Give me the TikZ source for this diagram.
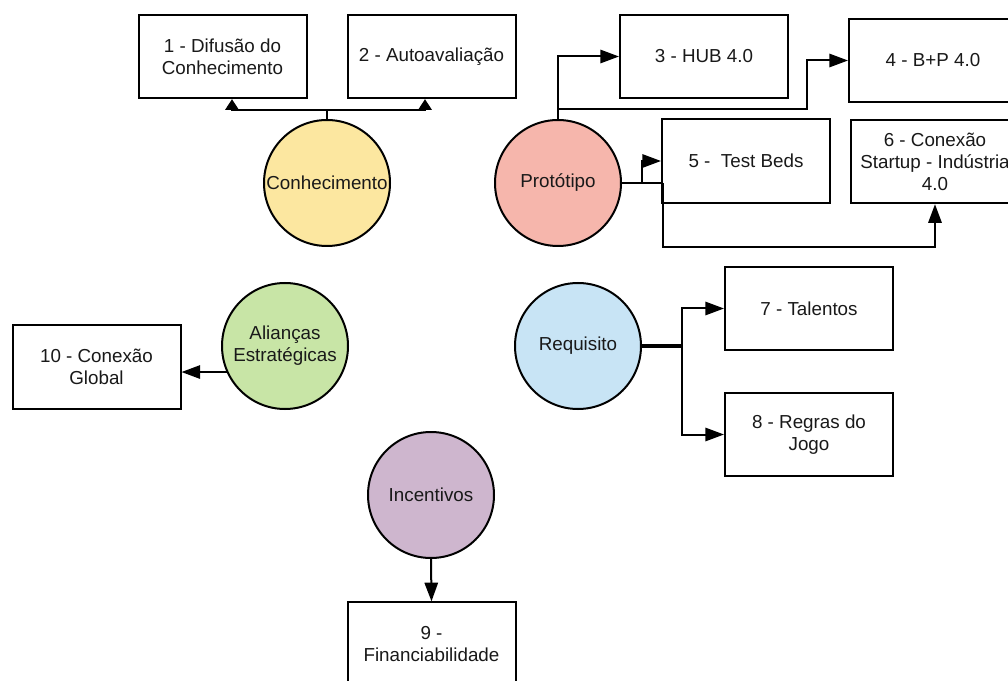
\documentclass[tikz,border=0pt]{standalone}
\usepackage{fontspec}
\setmainfont{Liberation Sans}
\usetikzlibrary{arrows.meta,calc}
\definecolor{cyel}{RGB}{252,231,160}
\definecolor{csal}{RGB}{246,182,172}
\definecolor{cblu}{RGB}{200,228,245}
\definecolor{cgrn}{RGB}{200,229,166}
\definecolor{cpur}{RGB}{206,182,206}
\definecolor{ctxt}{RGB}{25,25,25}
\tikzset{
  x=0.75pt, y=-0.75pt,
  every node/.style={font=\fontsize{14.1pt}{16.5pt}\selectfont, text=ctxt},
  box/.style={draw=black, line width=1.5pt, fill=white, minimum width=126pt, minimum height=62.5pt, inner sep=0pt, align=center},
  hub/.style={circle, draw=black, line width=1.5pt, minimum size=94.5pt, inner sep=0pt, align=center},
  arr/.style={draw=black, line width=1.5pt, -{Triangle[length=14pt,width=10pt]}},
  arrs/.style={draw=black, line width=1.5pt, -{Triangle[length=8pt,width=10pt]}},
  ln/.style={draw=black, line width=1.5pt}
}
\begin{document}
\begin{tikzpicture}
\useasboundingbox (0,0) rectangle (1008,681);
\clip (0,0) rectangle (1008,681);
\fill[white] (0,0) rectangle (1008,681);

% boxes
\node[box] (b1) at (222.5,56.5) {1 - Difusão do\\Conhecimento};
\node[box] (b2) at (431.5,56.5) {2 - Autoavaliação};
\node[box] (b3) at (704,56.5) {3 - HUB 4.0};
\node[box] (b4) at (933,60.5) {4 - B+P 4.0};
\node[box] (b5) at (746,161) {5 -\ \ Test Beds};
\node[box] (b6) at (935,161.5) {6 - Conexão\\Startup - Indústria\\4.0};
\node[box] (b7) at (809,308.5) {7 - Talentos};
\node[box] (b8) at (809,434.5) {8 - Regras do\\Jogo};
\node[box] (b10) at (96.5,367) {10 - Conexão\\Global};
\node[box] (b9) at (431.5,644) {9 -\\Financiabilidade};

% circles
\node[hub, fill=cyel] (con) at (327,183) {Conhecimento};
\node[hub, fill=csal] (pro) at (558,183) {Protótipo};
\node[hub, fill=cblu] (req) at (578,346) {Requisito};
\node[hub, fill=cgrn] (ali) at (285,346) {Alianças\\Estratégicas};
\node[hub, fill=cpur] (inc) at (431,495) {Incentivos};

% Conhecimento
\coordinate (jc) at (327,110);
\draw[ln] (con.north) -- (jc);
\draw[arrs] (jc) -| ($(b1.south)+(9.5,0)$);
\draw[arrs] (jc) -| ($(b2.south)+(-6.5,0)$);

% Protótipo
\draw[arr] (pro.north) |- (b3.west);
\coordinate (jp1) at (558,109);
\coordinate (jp2) at (807,109);
\draw[arr] (jp1) -- (jp2) |- (b4.west);
\coordinate (jp3) at (663,183);
\coordinate (jp4) at (642,183);
\coordinate (jp5) at (663,247);
\draw[ln] (pro.east) -- (jp3);
\draw[arr] (jp3) -- (jp5) -| (b6.south);
\draw[arr] (jp4) |- (b5.west);

% Requisito
\coordinate (jr) at (682,346);
\draw[draw=black, line width=3pt] (req.east) -- (jr);
\draw[arr] (jr) |- (b7.west);
\draw[arr] (jr) |- (b8.west);

% Alianças
\draw[arr] (ali.204) -- (ali.204 -| b10.east);

% Incentivos
\draw[arr] (inc.south) -- (b9.north);
\end{tikzpicture}
\end{document}
